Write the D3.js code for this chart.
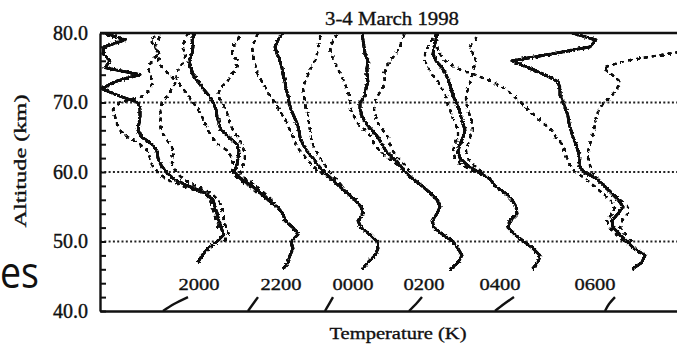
<!DOCTYPE html>
<html>
<head>
<meta charset="utf-8">
<script src="https://cdn.jsdelivr.net/npm/d3@7"></script>
<style>
  body { margin: 0; background: #fff; }
  svg { display: block; }
  text { font-family: "Liberation Serif", "Times New Roman", serif; fill: #111; }
  .ink { stroke: #111; stroke-width: 0.35px; }
</style>
</head>
<body>
<div id="chart"></div>
<script>
// lidar temperature profiles, 3-4 March 1998, each hour shifted right

var altitudes = [46, 47, 48, 49, 50, 51, 52, 53, 54, 55, 56, 57, 58, 59, 60, 61, 62, 63,
                 64, 65, 66, 67, 68, 69, 70, 71, 72, 73, 74, 75, 76, 77, 78, 79, 80];
var markerAlts = [40, 41, 42];
var labelAlt = 43;

var times = ["2000", "2200", "0000", "0200", "0400", "0600"];
var offsets = [0, 40, 80, 120, 160, 200];
var labelT = [249.5, 250.5, 246.5, 242, 240, 247.5];

// solid lines
var t2000 = [null, 249, 251, 254, 258.5, 262, 260.5, 259.5, 258.5, 257.5, 256.5, 252.5, 244, 237, 233, 230.5, 229, 228.5,
             226, 221, 219, 219.5, 220, 220, 219, 209, 201, 207.5, 220, 202.5, 205, 201.5, 202, 212.5, 202];
var t2200 = [251.5, 254, 255, 256.5, 255.5, 259, 256.5, 252.5, 251.5, 248.5, 244, 240, 236, 230.5, 227, 228.5, 229, 229.5,
             228.5, 224.5, 220.5, 219.5, 218.5, 218, 216.5, 214.5, 211.5, 209, 206.5, 205.5, 204.5, 206, 206.5, 206, 207.5];
var t0000 = [251, 254, 257.5, 259, 258.5, 255, 250.5, 249, 251.5, 250.5, 247.5, 243.5, 239.5, 236, 232, 229, 226.5, 223.5,
             221.5, 220, 219.5, 218.5, 217, 215.5, 214.5, 214, 213, 212.5, 211.5, 211, 210, 208.5, 207.5, 209, 211.5];
var t0200 = [255, 259, 261, 259, 256.5, 251.5, 247, 246, 248.5, 250, 248.5, 245, 241, 236.5, 232.5, 230, 226.5, 223,
             221, 219, 216, 213, 211, 210, 210, 212.5, 213, 214, 213.5, 213.5, 214, 212.5, 212, 211.5, 211];
var t0400 = [256, 259, 260, 256.5, 252, 247.5, 244, 245, 248.5, 248, 246, 242.5, 237.5, 235, 229, 223.5, 220, 219,
             220, 221.5, 222.5, 221.5, 220.5, 219.5, 218, 216.5, 215.5, 214.5, 213, 211, 208, 206.5, 207, 208, 208.5];
var t0600 = [266, 271, 272.5, 267, 263.5, 260, 256.5, 256, 259, 261.5, 259, 255.5, 252, 248.5, 242, 239.5, 240, 239,
             238, 236.5, 235.5, 234.5, 234, 233, 231.5, 230, 230, 229, 222.5, 214, 206, 226, 245, 248, 236];

// dashed lines (lower / upper)
var lo2000 = [null, null, null, null, null, null, 259, 258, 257, 256, 255, 251.5, 241, 233, 229, 226, 225, 224,
              220, 214, 210, 208.5, 207.5, 206.5, 210, 222.5, 225, 226.5, 225, 224, 226, 229, 227.5, 225, 230];
var hi2000 = [null, null, null, null, 262, 264.5, 263, 262, 261.5, 261, 259, 255.5, 248, 241.5, 238, 236, 236, 237,
              235, 232.5, 230.5, 230, 230.5, 230, 231, 234, 236, 238, 235, 231, 229, 230, 227.5, 229, 231];
var lo2200 = [null, null, null, null, null, null, null, null, null, null, null, 238.5, 234.5, 229, 226, 226.5, 226, 224,
              219, 216, 214, 212.5, 211, 209, 206.5, 204, 201.5, 199, 197.5, 200, 202, 203, 201, 202.5, 204];
var hi2200 = [null, null, null, null, null, null, null, null, null, null, 246, 242, 238, 233, 230, 231.5, 232.5, 232,
              231, 229, 226.5, 225, 224, 223, 221, 219, 220, 223.5, 226, 228, 229, 226, 226.5, 229, 230];
var lo0000 = [null, null, null, null, null, null, null, null, null, null, null, null, null, 235, 230, 226, 223, 220,
              218, 216.5, 215, 213.5, 211.5, 209.5, 207.5, 205, 203, 201, 199, 198, 197, 196.5, 196, 197.5, 199];
var hi0000 = [null, null, null, null, null, null, null, null, null, null, null, null, 241, 238, 235, 232.5, 230, 228,
              226.5, 225.5, 225, 224.5, 224, 223, 222.5, 222, 221.5, 222.5, 224, 225.5, 227.5, 228.5, 229, 230, 230];
var lo0200 = [null, null, null, null, null, null, null, null, null, null, null, null, null, null, null, 229, 224, 220,
              217, 216, 212.5, 209, 207, 205.5, 205, 204.5, 203.5, 202, 200.5, 198.5, 197, 195.5, 195, 197, 199];
var hi0200 = [null, null, null, null, null, null, null, null, null, null, null, null, null, null, 235, 232.5, 229, 226.5,
              225, 224, 221.5, 219, 218, 217, 217.5, 219, 221, 222.5, 222, 223, 225, 228, 230, 231, 232.5];
var lo0400 = [null, null, null, null, null, null, null, null, null, null, null, null, null, null, 227.5, 221, 217.5, 216.5,
              217.5, 219, 219, 217.5, 216, 215, 213.5, 213, 211, 209, 206, 204, 202.5, 202.5, 204, 206, 207.5];
var hi0400 = [null, null, null, null, null, null, null, null, null, null, null, null, null, null, 231, 227, 224, 223,
              224, 225, 226.5, 226, 225, 224, 223, 223, 224, 225, 226, 227, 228, 226.5, 225, 227.5, 229];
var lo0600 = [null, null, null, null, 262, 258, 254.5, 253.5, 256, 257.5, 255, 251, 247, 243, 237.5, 235, 233.5, 232.5,
              231, 228, 226, 221.5, 218, 214, 210.5, 206.5, 202.5, 196, 187.5, 177.5, 172.5, 170, 168.5, null, null];
var hi0600 = [null, null, null, null, 266, 263, 260, 261, 264, 264, 260, 256, 252.5, 249, 246, 245, 244, 244,
              245, 246, 247, 247.5, 248, 249.5, 252, 256, 258.5, 260, 256, 251.5, 262.5, 284, 305, null, null];

// short reference pieces at the bottom (40-42 km)
var m2000 = [231.5, 237, 244];
var m2200 = [234, 236.5, 239];
var m0000 = [232.5, 234.5, 236.5];
var m0200 = [234.5, 238, 241];
var m0400 = [237.5, 242, 247];
var m0600 = [252.5, 254.5, 257.5];

var solids = [t2000, t2200, t0000, t0200, t0400, t0600];
var lows = [lo2000, lo2200, lo0000, lo0200, lo0400, lo0600];
var highs = [hi2000, hi2200, hi0000, hi0200, hi0400, hi0600];
var markers = [m2000, m2200, m0000, m0200, m0400, m0600];

var yTicks = d3.range(40, 81, 2);
var gridAlts = [50, 60, 70];

var W = 677, H = 349;
var x = d3.scaleLinear().domain([200, 488.5]).range([100, 677]);
var y = d3.scaleLinear().domain([40, 80]).range([311, 33]);

var svg = d3.select("#chart").append("svg")
  .attr("width", W).attr("height", H);

svg.append("rect").attr("width", W).attr("height", H).attr("fill", "#fff");

var defs = svg.append("defs");

defs.append("clipPath").attr("id", "plot")
  .append("rect")
  .attr("x", x.range()[0]).attr("y", y.range()[1])
  .attr("width", x.range()[1] - x.range()[0])
  .attr("height", y.range()[0] - y.range()[1]);

// scanned look: small wobble on the traces, then re-darken the edges
var rough = defs.append("filter").attr("id", "rough")
  .attr("x", "-5%").attr("y", "-5%").attr("width", "110%").attr("height", "110%");
rough.append("feTurbulence")
  .attr("type", "fractalNoise").attr("baseFrequency", 0.5)
  .attr("numOctaves", 2).attr("seed", 3).attr("result", "noise");
rough.append("feDisplacementMap")
  .attr("in", "SourceGraphic").attr("in2", "noise")
  .attr("scale", 3.2).attr("xChannelSelector", "R").attr("yChannelSelector", "G")
  .attr("result", "moved");
rough.append("feComponentTransfer").attr("in", "moved")
  .append("feFuncA").attr("type", "linear").attr("slope", 2.2).attr("intercept", -0.1);

function pairs(alts, temps) {
  return alts.map(function(a, i) { return [a, temps[i]]; });
}

function profileLine(offset) {
  return d3.line()
    .defined(function(d) { return d[1] != null; })
    .x(function(d) { return x(d[1] + offset); })
    .y(function(d) { return y(d[0]); });
}

// dotted grid lines
svg.append("g").selectAll("line")
  .data(gridAlts).enter().append("line")
  .attr("x1", x.range()[0]).attr("x2", x.range()[1])
  .attr("y1", function(d) { return y(d); })
  .attr("y2", function(d) { return y(d); })
  .attr("stroke", "#222").attr("stroke-width", 2)
  .attr("stroke-dasharray", "2,2.3");

var plot = svg.append("g").attr("clip-path", "url(#plot)");
var traces = plot.append("g").attr("filter", "url(#rough)");

times.forEach(function(t, i) {
  var line = profileLine(offsets[i]);

  [lows[i], highs[i]].forEach(function(s) {
    traces.append("path")
      .datum(pairs(altitudes, s))
      .attr("d", line)
      .attr("fill", "none").attr("stroke", "#111")
      .attr("stroke-width", 2.2)
      .attr("stroke-dasharray", "4,4");
  });

  traces.append("path")
    .datum(pairs(altitudes, solids[i]))
    .attr("d", line)
    .attr("fill", "none").attr("stroke", "#111")
    .attr("stroke-width", 2.8)
    .attr("stroke-linejoin", "round");

  plot.append("path")
    .datum(pairs(markerAlts, markers[i]))
    .attr("d", line.curve(d3.curveMonotoneY))
    .attr("fill", "none").attr("stroke", "#111")
    .attr("stroke-width", 2.4);

  svg.append("text")
    .attr("class", "ink")
    .attr("x", x(labelT[i] + offsets[i]))
    .attr("y", y(labelAlt))
    .attr("text-anchor", "middle")
    .attr("font-size", 17.5)
    .attr("textLength", 41)
    .attr("lengthAdjust", "spacingAndGlyphs")
    .text(t);
});

// axes
var yAxis = d3.axisLeft(y)
  .tickValues(yTicks)
  .tickSizeInner(-6)
  .tickSizeOuter(0)
  .tickPadding(12)
  .tickFormat(function(d) { return d % 10 === 0 ? d3.format(".1f")(d) : ""; });

var ya = svg.append("g")
  .attr("transform", "translate(" + x.range()[0] + ",0)")
  .call(yAxis);
ya.select(".domain").attr("stroke", "#111").attr("stroke-width", 2.4);
ya.selectAll(".tick line").attr("stroke", "#111").attr("stroke-width", 2);
ya.selectAll(".tick text")
  .attr("font-family", "Liberation Serif, Times New Roman, serif")
  .attr("font-size", 20).attr("fill", "#111")
  .attr("stroke", "#111").attr("stroke-width", 0.4);

var xa = svg.append("g")
  .attr("transform", "translate(0," + y.range()[0] + ")")
  .call(d3.axisBottom(x).tickValues([]).tickSizeOuter(0));
xa.select(".domain").attr("stroke", "#111").attr("stroke-width", 2.4);

svg.append("line")
  .attr("x1", x.range()[0]).attr("x2", x.range()[1])
  .attr("y1", y.range()[1]).attr("y2", y.range()[1])
  .attr("stroke", "#111").attr("stroke-width", 2.4);

// titles
svg.append("text")
  .attr("class", "ink")
  .attr("x", 392).attr("y", 25)
  .attr("text-anchor", "middle")
  .attr("font-size", 18.5)
  .attr("textLength", 134).attr("lengthAdjust", "spacingAndGlyphs")
  .text("3-4 March 1998");

svg.append("text")
  .attr("class", "ink")
  .attr("x", 398).attr("y", 339)
  .attr("text-anchor", "middle")
  .attr("font-size", 17)
  .attr("textLength", 137).attr("lengthAdjust", "spacingAndGlyphs")
  .text("Temperature (K)");

svg.append("text")
  .attr("class", "ink")
  .attr("transform", "translate(26,161) rotate(-90)")
  .attr("text-anchor", "middle")
  .attr("font-size", 17)
  .attr("textLength", 133).attr("lengthAdjust", "spacingAndGlyphs")
  .text("Altitude (km)");

// leftover of slide text behind the figure
svg.append("text")
  .attr("x", 0).attr("y", 288)
  .attr("font-size", 44)
  .attr("textLength", 39).attr("lengthAdjust", "spacingAndGlyphs")
  .style("font-family", "'Open Sans', 'Noto Sans', sans-serif")
  .text("es");
</script>
</body>
</html>
